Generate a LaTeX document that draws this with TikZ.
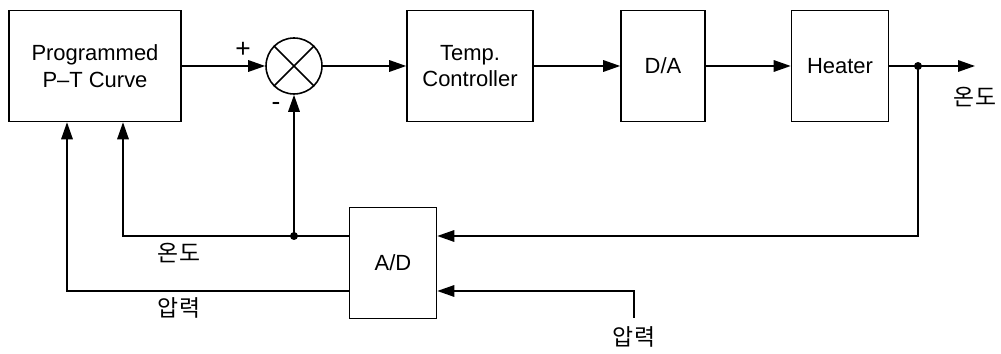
\documentclass[tikz,border=0pt]{standalone}
\usepackage{fontspec}
\setmainfont{Liberation Sans}
\newfontfamily\kor{Noto Sans CJK KR}
\usetikzlibrary{arrows.meta, positioning, calc}

\begin{document}
\begin{tikzpicture}[
    x=0.02cm, y=-0.02cm,
    font=\fontsize{12.5}{15}\selectfont,
    flow/.style={-{Triangle[length=3.4mm, width=2.3mm]}, line width=0.9pt},
    wire/.style={line width=0.9pt},
    blk/.style={draw, line width=0.9pt, align=center, minimum height=2.22cm},
    summer/.style={draw, circle, line width=0.9pt, minimum size=1.12cm, inner sep=0pt},
    junc/.style={circle, fill, inner sep=0pt, minimum size=1.6mm},
    sgn/.style={font=\fontsize{15}{17}\selectfont},
    lbl/.style={font=\kor\fontsize{13}{15}\selectfont},
]
\useasboundingbox (0,0) rectangle (1001,354);

% ================= forward path =================
\node[blk, minimum width=3.44cm] (prog) at (95,66) {Programmed\\P--T Curve};
\node[summer] (sum) at (294,66) {};
\draw[wire] (sum.north west) -- (sum.south east) (sum.north east) -- (sum.south west);
\node[blk, minimum width=2.52cm] (ctrl) at (470,66) {Temp.\\Controller};
\node[blk, minimum width=1.68cm] (da) at (663,66) {D/A};
\node[blk, minimum width=1.94cm] (heat) at (840,66) {Heater};

\coordinate (tap) at (918,66);
\coordinate (out) at (975,66);

\draw[flow] (prog.east) -- (sum.west);
\draw[flow] (sum.east) -- (ctrl.west);
\draw[flow] (ctrl) -- (da);
\draw[flow] (da) -- (heat);
\draw[wire] (heat.east) -- (tap);
\draw[flow] (tap) -- (out);

\node[sgn] (plus) at (243,50) {+};
\node[sgn] (minus) at (276,106) {-};
\node[lbl] (yout) at (975,97) {온도};

% ================= feedback: A/D =================
\node[blk, minimum width=1.74cm] (ad) at (393,263) {A/D};

\coordinate (tin) at (ad.east |- 0,236);
\coordinate (pin) at (ad.east |- 0,291);
\coordinate (tfb) at (ad.west |- tin);
\coordinate (pfb) at (ad.west |- pin);
\coordinate (branch) at (sum.south |- tin);
\coordinate (psrc) at (634,318);
\coordinate (progT) at (prog.south -| 123,0);
\coordinate (progP) at (prog.south -| 67,0);

\draw[flow] (tap) |- (tin);
\draw[flow] (psrc) |- (pin);
\draw[flow] (tfb) -| (progT);
\draw[flow] (pfb) -| (progP);
\draw[flow] (branch) -- (sum.south);
\node[junc] at (tap) {};
\node[junc] at (branch) {};

\node[lbl] (ytemp) at (179,253) {온도};
\node[lbl] (ypres) at (179,308) {압력};
\node[lbl] (yin) at (634,337) {압력};

\end{tikzpicture}
\end{document}
